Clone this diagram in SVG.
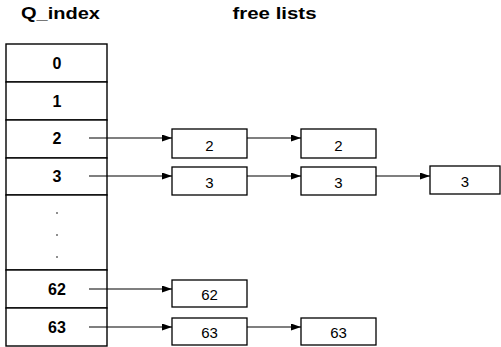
<svg xmlns="http://www.w3.org/2000/svg" width="501" height="347" viewBox="0 0 501 347">
<defs>
<marker id="ah" markerWidth="10" markerHeight="7" refX="10" refY="3.5" orient="auto" markerUnits="userSpaceOnUse">
<path d="M0,0 L10,3.5 L0,7 Z" fill="#000"/>
</marker>
</defs>
<style>
.t{font-family:"Liberation Sans",Arial,sans-serif;font-weight:bold;font-size:17px;fill:#000;text-anchor:middle}
.cell{fill:#fff;stroke:#000;stroke-width:1.4}
.rl{font-family:"Liberation Sans",Arial,sans-serif;font-weight:bold;font-size:16px;fill:#000;text-anchor:middle}
.box{fill:#fff;stroke:#000;stroke-width:1.3}
.bl{font-family:"Liberation Sans",Arial,sans-serif;font-size:15px;fill:#000;text-anchor:middle}
.c{stroke:#000;stroke-width:1.2;fill:none;marker-end:url(#ah)}
</style>
<rect width="501" height="347" fill="#fff"/>
<text class="t" x="60.5" y="19" textLength="79" lengthAdjust="spacingAndGlyphs">Q_index</text>
<text class="t" x="274.5" y="19" textLength="84" lengthAdjust="spacingAndGlyphs">free lists</text>
<g id="qindex">
<rect class="cell" x="6" y="44" width="101" height="38"/>
<rect class="cell" x="6" y="82" width="101" height="38"/>
<rect class="cell" x="6" y="120" width="101" height="38"/>
<rect class="cell" x="6" y="158" width="101" height="37"/>
<rect class="cell" x="6" y="195" width="101" height="75"/>
<rect class="cell" x="6" y="270" width="101" height="38"/>
<rect class="cell" x="6" y="308" width="101" height="38"/>
<text class="rl" x="57" y="69">0</text>
<text class="rl" x="57" y="107">1</text>
<text class="rl" x="57" y="144">2</text>
<text class="rl" x="57" y="182">3</text>
<circle cx="57" cy="213" r="0.8" fill="#000"/>
<circle cx="57" cy="235" r="0.8" fill="#000"/>
<circle cx="57" cy="257" r="0.8" fill="#000"/>
<text class="rl" x="57" y="295">62</text>
<text class="rl" x="57" y="333">63</text>
</g>
<g id="n2a"><rect class="box" x="172" y="129" width="75" height="29"/><text class="bl" x="209.5" y="151">2</text></g>
<g id="n2b"><rect class="box" x="301" y="129" width="75" height="29"/><text class="bl" x="338.5" y="151">2</text></g>
<g id="n3a"><rect class="box" x="172" y="167" width="75" height="28"/><text class="bl" x="209.5" y="188">3</text></g>
<g id="n3b"><rect class="box" x="301" y="167" width="75" height="28"/><text class="bl" x="338.5" y="188">3</text></g>
<g id="n3c"><rect class="box" x="430" y="166" width="70" height="28"/><text class="bl" x="465" y="187">3</text></g>
<g id="n62a"><rect class="box" x="172" y="280" width="75" height="27"/><text class="bl" x="209.5" y="300">62</text></g>
<g id="n63a"><rect class="box" x="172" y="318" width="75" height="27"/><text class="bl" x="209.5" y="338">63</text></g>
<g id="n63b"><rect class="box" x="301" y="318" width="75" height="27"/><text class="bl" x="338.5" y="338">63</text></g>
<g id="connectors">
<line class="c" x1="89" y1="138" x2="172" y2="138"/>
<line class="c" x1="247" y1="138" x2="301" y2="138"/>
<line class="c" x1="89" y1="176" x2="172" y2="176"/>
<line class="c" x1="247" y1="176" x2="301" y2="176"/>
<line class="c" x1="376" y1="176" x2="430" y2="176"/>
<line class="c" x1="89" y1="289" x2="172" y2="289"/>
<line class="c" x1="89" y1="327" x2="172" y2="327"/>
<line class="c" x1="247" y1="327" x2="301" y2="327"/>
</g>
</svg>
